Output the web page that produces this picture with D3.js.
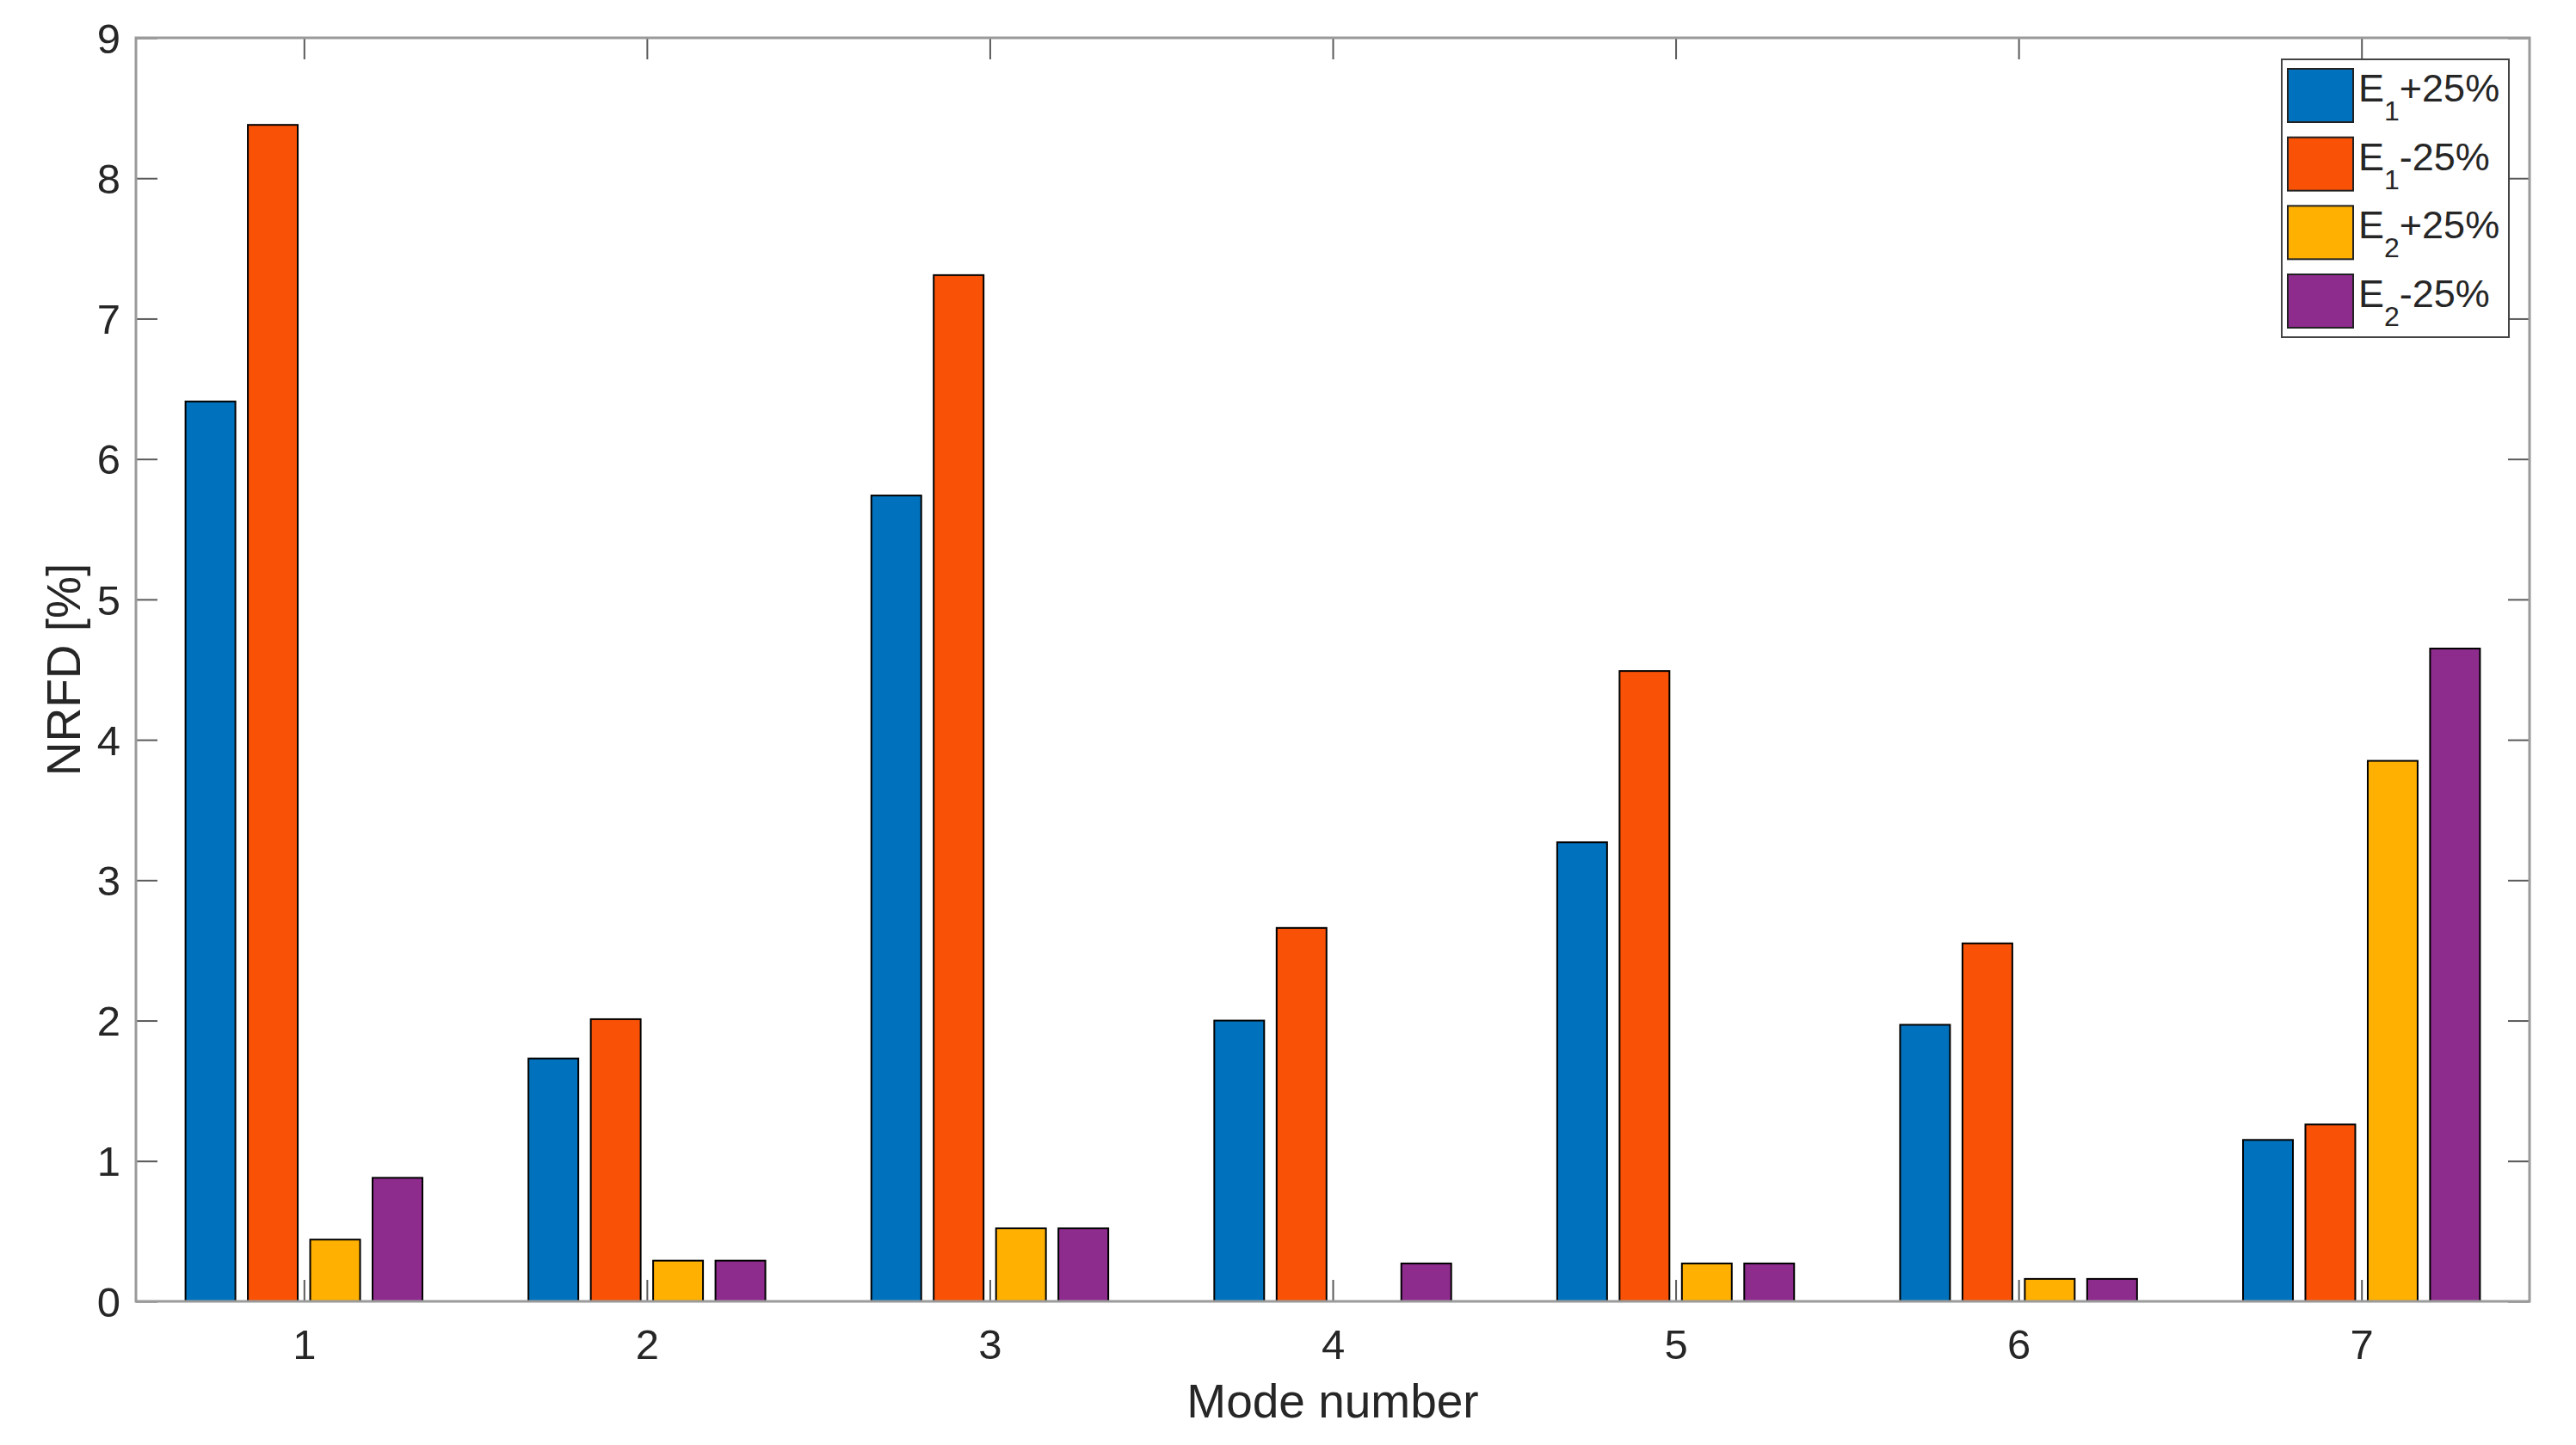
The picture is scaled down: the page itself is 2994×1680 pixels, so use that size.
<!DOCTYPE html>
<html>
<head>
<meta charset="utf-8">
<script src="https://cdn.jsdelivr.net/npm/d3@7"></script>
<style>
  html, body { margin: 0; padding: 0; background: #fff; }
  svg { display: block; }
  text { font-family: "Liberation Sans", Arial, Helvetica, sans-serif; fill: #262626; }
</style>
</head>
<body>
<svg id="chart" width="2994" height="1680"></svg>
<script>
// ---- Data ----
const categories = [1, 2, 3, 4, 5, 6, 7];
const e1Plus  = [6.41, 1.73, 5.74, 2.00, 3.27, 1.97, 1.15];
const e1Minus = [8.38, 2.01, 7.31, 2.66, 4.49, 2.55, 1.26];
const e2Plus  = [0.44, 0.29, 0.52, 0.00, 0.27, 0.16, 3.85];
const e2Minus = [0.88, 0.29, 0.52, 0.27, 0.27, 0.16, 4.65];
const seriesMain = ["E", "E", "E", "E"];
const seriesSub  = ["1", "1", "2", "2"];
const seriesRest = ["+25%", "-25%", "+25%", "-25%"];
const seriesColors = ["#0072BD", "#F95206", "#FFB000", "#8E2C8E"];
const yTicks = [0, 1, 2, 3, 4, 5, 6, 7, 8, 9];
const xLabel = "Mode number";
const yLabel = "NRFD [%]";

const seriesValues = [e1Plus, e1Minus, e2Plus, e2Minus];

// ---- Layout ----
const mLeft = 158, mRight = 2940, mTop = 44, mBottom = 1513;
const svg = d3.select("#chart");

const x = d3.scaleLinear().domain([0.51, 7.49]).range([mLeft, mRight]);
const y = d3.scaleLinear().domain([0, 9]).range([mBottom, mTop]);

const nSeries = seriesValues.length;
const groupWidth = Math.min(0.8, nSeries / (nSeries + 1.5));
const slot = groupWidth / nSeries;
const barW = slot * 0.8;

// ---- Bars ----
const barData = [];
seriesValues.forEach((vals, s) => {
  vals.forEach((v, i) => {
    barData.push({ s, cat: categories[i], v });
  });
});

svg.append("g")
  .selectAll("rect")
  .data(barData.filter(d => d.v > 0))
  .join("rect")
  .attr("x", d => x(d.cat + (d.s - (nSeries - 1) / 2) * slot - barW / 2))
  .attr("width", d => x(barW) - x(0))
  .attr("y", d => y(d.v))
  .attr("height", d => y(0) - y(d.v))
  .attr("fill", d => seriesColors[d.s])
  .attr("stroke", "#000")
  .attr("stroke-width", 2);

// ---- Axes ----
const tickLen = 25;
const axisColor = "#9a9a9a";
const tickColor = "#5a5a5a";

const gx = svg.append("g").attr("transform", `translate(0,${mBottom})`)
  .call(d3.axisBottom(x).tickValues(categories).tickFormat(d3.format("d")).tickSizeInner(-tickLen).tickSizeOuter(0).tickPadding(32));
const gxTop = svg.append("g").attr("transform", `translate(0,${mTop})`)
  .call(d3.axisTop(x).tickValues(categories).tickFormat("").tickSizeInner(-tickLen).tickSizeOuter(0));
const gy = svg.append("g").attr("transform", `translate(${mLeft},0)`)
  .call(d3.axisLeft(y).tickValues(yTicks).tickFormat(d3.format("d")).tickSizeInner(-tickLen).tickSizeOuter(0).tickPadding(18));
const gyR = svg.append("g").attr("transform", `translate(${mRight},0)`)
  .call(d3.axisRight(y).tickValues(yTicks).tickFormat("").tickSizeInner(-tickLen).tickSizeOuter(0));

[gx, gxTop, gy, gyR].forEach(g => {
  g.select(".domain").remove();
  g.selectAll(".tick line").attr("stroke", tickColor).attr("stroke-width", 2);
  g.selectAll(".tick text").style("font-size", "49px").attr("fill", "#262626")
    .style("font-family", '"Liberation Sans", Arial, Helvetica, sans-serif');
});
gy.selectAll(".tick text").attr("dy", "0.35em");

// box
svg.append("rect")
  .attr("x", mLeft).attr("y", mTop)
  .attr("width", mRight - mLeft).attr("height", mBottom - mTop)
  .attr("fill", "none").attr("stroke", axisColor).attr("stroke-width", 3);

// ---- Axis labels ----
svg.append("text")
  .attr("x", (mLeft + mRight) / 2).attr("y", 1648)
  .attr("text-anchor", "middle")
  .style("font-size", "55px")
  .text(xLabel);

svg.append("text")
  .attr("transform", `translate(93,${(mTop + mBottom) / 2}) rotate(-90)`)
  .attr("text-anchor", "middle")
  .style("font-size", "55px")
  .text(yLabel);

// ---- Legend ----
const lg = svg.append("g");
lg.append("rect")
  .attr("x", 2652).attr("y", 69).attr("width", 264).attr("height", 323)
  .attr("fill", "#fff").attr("stroke", "#444").attr("stroke-width", 2);

const rowY = d3.scaleLinear().domain([0, 3]).range([80, 319]);
seriesColors.forEach((c, i) => {
  const ry = rowY(i);
  lg.append("rect")
    .attr("x", 2659).attr("y", ry).attr("width", 76).attr("height", 62)
    .attr("fill", c).attr("stroke", "#222").attr("stroke-width", 2);
  const t = lg.append("text")
    .attr("x", 2741).attr("y", ry + 38)
    .style("font-size", "45px");
  t.append("tspan").text(seriesMain[i]);
  t.append("tspan").attr("dy", 22).style("font-size", "32px").text(seriesSub[i]);
  t.append("tspan").attr("dy", -22).text(seriesRest[i]);
});
</script>
</body>
</html>
